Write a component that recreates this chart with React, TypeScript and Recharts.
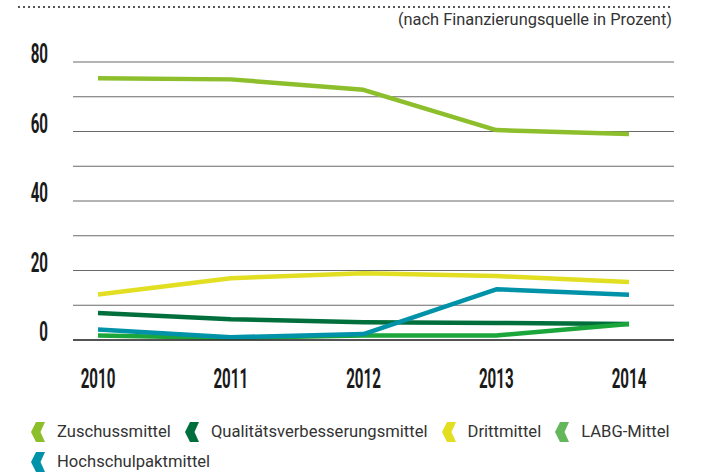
import React from 'react';
import { LineChart, Line, XAxis, YAxis, CartesianGrid } from 'recharts';

const years = ['2010', '2011', '2012', '2013', '2014'];
const zuschussmittel = [75.3, 75.0, 72.0, 60.4, 59.3];
const qualitaetsmittel = [7.8, 6.0, 5.1, 4.9, 4.6];
const drittmittel = [13.1, 17.8, 19.2, 18.4, 16.7];
const labgMittel = [1.3, 0.6, 1.3, 1.3, 4.6];
const hochschulpaktmittel = [3.0, 0.8, 1.7, 14.6, 13.0];
const yTicks = [0, 10, 20, 30, 40, 50, 60, 70, 80];

const seriesNames = ['Zuschussmittel', 'Qualitätsverbesserungsmittel', 'Drittmittel', 'LABG-Mittel', 'Hochschulpaktmittel'];
const lineColors = ['#8cbf2b', '#006f3c', '#e2df22', '#1aa63a', '#0092a8'];
const legendColors = ['#8cbf2b', '#006f3c', '#e2df22', '#62b85a', '#0092a8'];
const seriesKeys = ['zuschuss', 'qualitaet', 'dritt', 'labg', 'hochschul'];

const data = years.map((y, i) => ({
  year: y,
  zuschuss: zuschussmittel[i],
  qualitaet: qualitaetsmittel[i],
  dritt: drittmittel[i],
  labg: labgMittel[i],
  hochschul: hochschulpaktmittel[i],
}));

const YTick = (props: any) => {
  const { x, y, payload } = props;
  if (payload.value % 20 !== 0) return <g />;
  return (
    <g transform={`translate(${x - 17},${y + 1}) scale(0.56,1)`}>
      <text x={0} y={0} textAnchor="end" fontFamily="Roboto" fontWeight={700} fontSize={27} fill="#1a1a1a">
        {payload.value}
      </text>
    </g>
  );
};

const XTick = (props: any) => {
  const { x, y, payload } = props;
  return (
    <g transform={`translate(${x},${y + 40}) scale(0.56,1)`}>
      <text x={0} y={0} textAnchor="middle" fontFamily="Roboto" fontWeight={700} fontSize={27} fill="#1a1a1a">
        {payload.value}
      </text>
    </g>
  );
};

const Chevron = ({ color }: { color: string }) => (
  <svg width={14} height={20} style={{ display: 'block', flex: 'none' }}>
    <polygon points="14,0 5,0 0,10 5,20 14,20 9.5,10" fill={color} />
  </svg>
);

export default function App() {
  return (
    <div style={{ position: 'absolute', left: 0, top: 0, width: 712, height: 472, background: '#fff', overflow: 'hidden' }}>
      <svg width={712} height={14} style={{ position: 'absolute', left: 0, top: 0 }}>
        <line x1={18} y1={7} x2={673} y2={7} stroke="#555" strokeWidth={2} strokeDasharray="2 3" />
      </svg>
      <div
        style={{
          position: 'absolute',
          right: 40,
          top: 10,
          fontFamily: 'Roboto',
          fontSize: 16.4,
          color: '#333',
          lineHeight: '20px',
        }}
      >
        (nach Finanzierungsquelle in Prozent)
      </div>
      <div style={{ position: 'absolute', left: 0, top: 0 }}>
        <LineChart width={712} height={400} data={data} margin={{ top: 62, right: 38, bottom: 0, left: 0 }}>
          <CartesianGrid horizontal={true} vertical={false} stroke="#6a6a6a" strokeWidth={1.2} />
          <XAxis
            dataKey="year"
            height={60}
            padding={{ left: 25, right: 45 }}
            axisLine={{ stroke: '#333', strokeWidth: 1.5 }}
            tickLine={false}
            tick={<XTick />}
            interval={0}
          />
          <YAxis
            width={73}
            domain={[0, 80]}
            ticks={yTicks}
            axisLine={false}
            tickLine={false}
            tick={<YTick />}
            interval={0}
          />
          {seriesKeys.map((k, i) => (
            <Line
              key={k}
              type="linear"
              dataKey={k}
              name={seriesNames[i]}
              stroke={lineColors[i]}
              strokeWidth={4.5}
              dot={false}
              activeDot={false}
              isAnimationActive={false}
              strokeLinejoin="round"
            />
          ))}
        </LineChart>
      </div>
      <div
        style={{
          position: 'absolute',
          left: 31,
          top: 422,
          width: 670,
          display: 'flex',
          flexWrap: 'wrap',
          rowGap: 10,
          fontFamily: 'Roboto',
          fontSize: 16.6,
          color: '#333',
          lineHeight: '20px',
        }}
      >
        {seriesNames.map((n, i) => (
          <div key={n} style={{ display: 'flex', alignItems: 'center', marginRight: 14 }}>
            <Chevron color={legendColors[i]} />
            <span style={{ marginLeft: 12 }}>{n}</span>
          </div>
        ))}
      </div>
    </div>
  );
}
